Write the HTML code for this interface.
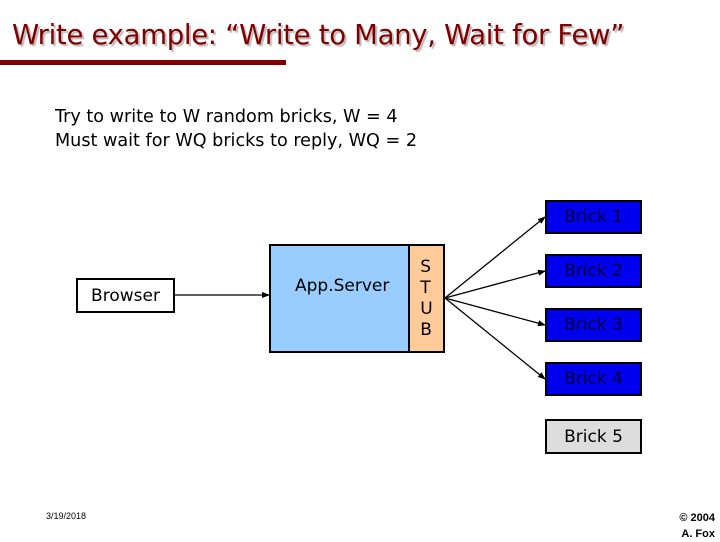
<!DOCTYPE html>
<html><head><style>
body{margin:0;width:720px;height:540px;background:#fff;position:relative;overflow:hidden;font-family:"DejaVu Sans","Liberation Sans",sans-serif}
.a{position:absolute}
.title{left:12px;top:19px;font-size:27.5px;color:#800000;text-shadow:2px 2px 1px #bbb;white-space:nowrap;letter-spacing:-0.3px}
.bar{left:0;top:60px;width:286px;height:5px;background:#800000}
.t{font-size:17.6px;color:#000;white-space:nowrap}
.box{position:absolute;border:2px solid #000;box-sizing:border-box;display:flex;align-items:center;justify-content:center;font-size:17px}
.blue{background:#0000ee;color:#00003a}
</style></head><body>
<div class="a title">Write example: “Write to Many, Wait for Few”</div>
<div class="a bar"></div>
<div class="a t" style="left:55px;top:107px">Try to write to W random bricks, W = 4</div>
<div class="a t" style="left:55px;top:131px">Must wait for WQ bricks to reply, WQ = 2</div>
<div class="box" style="left:76px;top:278px;width:99px;height:35px;background:#fff">Browser</div>
<div class="box" style="left:269px;top:244px;width:141px;height:109px;background:#99ccff;align-items:flex-start;padding-top:30px;justify-content:flex-start;padding-left:24px">App.Server</div>
<div class="box" style="left:408px;top:244px;width:37px;height:109px;background:#ffcc99;flex-direction:column;line-height:21px">S<br>T<br>U<br>B</div>
<div class="box blue" style="left:545px;top:200px;width:97px;height:34px">Brick 1</div>
<div class="box blue" style="left:545px;top:254px;width:97px;height:34px">Brick 2</div>
<div class="box blue" style="left:545px;top:308px;width:97px;height:34px">Brick 3</div>
<div class="box blue" style="left:545px;top:362px;width:97px;height:34px">Brick 4</div>
<div class="box" style="left:545px;top:419px;width:97px;height:35px;background:#ddd">Brick 5</div>
<svg class="a" style="left:0;top:0" width="720" height="540">
<defs><marker id="m" markerWidth="8" markerHeight="8" refX="7" refY="4" orient="auto" markerUnits="userSpaceOnUse"><path d="M0,1 L8,4 L0,7z" fill="#000"/></marker></defs>
<g stroke="#000" stroke-width="1.3" marker-end="url(#m)">
<line x1="175" y1="295" x2="269" y2="295"/>
<line x1="445" y1="298" x2="545" y2="217"/>
<line x1="445" y1="298" x2="545" y2="271"/>
<line x1="445" y1="298" x2="545" y2="325"/>
<line x1="445" y1="298" x2="545" y2="379"/>
</g></svg>
<div class="a" style="left:46px;top:511px;font-size:9px;font-family:'Liberation Sans',sans-serif">3/19/2018</div>
<div class="a" style="right:5px;top:510px;font-size:11px;font-weight:bold;text-align:right;line-height:16px;font-family:'Liberation Sans',sans-serif">© 2004<br>A. Fox</div>
</body></html>
